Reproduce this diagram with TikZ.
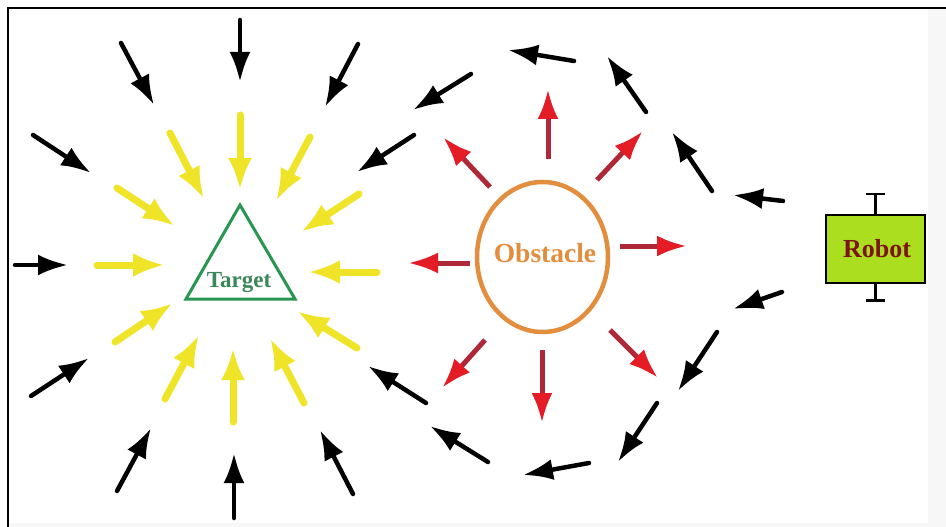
\documentclass[tikz,border=0pt]{standalone}
\usepackage{fontspec}
\setmainfont{Liberation Serif}
\usetikzlibrary{arrows.meta,shapes.geometric}
\definecolor{yel}{RGB}{240,228,40}
\definecolor{redshaft}{RGB}{175,40,55}
\definecolor{redhead}{RGB}{228,28,38}
\definecolor{obsorange}{RGB}{226,142,62}
\definecolor{tgreen}{RGB}{40,150,80}
\definecolor{ttext}{RGB}{60,135,90}
\definecolor{robotfill}{RGB}{170,222,30}
\definecolor{robottext}{RGB}{125,20,20}
\begin{document}
\begin{tikzpicture}[x=1pt,y=-1pt,
  blk/.style={line width=4.5pt, draw=black, line cap=round, -{Latex[length=30pt,width=21pt]}},
  ylw/.style={line width=7pt, draw=yel, line cap=round, -{Latex[length=32pt,width=24pt]}},
  redar/.style={line width=5pt, draw=redshaft, -{Latex[length=30pt,width=21pt,color=redhead]}},
  lbl/.style={font=\bfseries, inner sep=0pt, anchor=base}
]
\useasboundingbox (0,0) rectangle (946,527);
\fill[white] (0,0) rectangle (946,527);
\fill[black!3] (928,9) rectangle (946,527);
\fill[black!3] (9,523) rectangle (946,527);
\draw[line width=2.5pt] (8,527) -- (8,8) -- (946,8);

% Target
\draw[tgreen, line width=3pt, line join=miter] (240,205) -- (295,299) -- (186,299) -- cycle;
\node[lbl, text=ttext, font=\fontsize{23}{23}\selectfont\bfseries] (target) at (239,287) {Target};

% Obstacle
\node[ellipse, draw=obsorange, line width=4.5pt, minimum width=131pt, minimum height=150pt, inner sep=0pt] (obstacle) at (542.5,257) {};
\node[lbl, text=obsorange, font=\fontsize{27.5}{27.5}\selectfont\bfseries] (obstext) at (545,262) {Obstacle};

% Robot
\node[draw=black, fill=robotfill, line width=2.5pt, minimum width=99pt, minimum height=68pt, inner sep=0pt] (robot) at (875.5,249) {};
\node[lbl, text=robottext, font=\fontsize{26}{26}\selectfont\bfseries] (robottxt) at (877,257) {Robot};
\draw[line width=2.5pt] (robot.north) -- ++(0,-20) coordinate (rt);
\draw[line width=2.5pt] ([xshift=-9.5pt]rt) -- ([xshift=9.5pt]rt);
\draw[line width=2.5pt] (robot.south) -- ++(0,16) coordinate (rb);
\draw[line width=2.5pt] ([xshift=-9.5pt]rb) -- ([xshift=9.5pt]rb);

% Black arrows toward target and around obstacle
\foreach \x/\y/\u/\v in {
  240/20/240/82, 121/43/154/105, 33/135/91/173, 15/265/68/265,
  31/396/89/358, 117/491/151/428, 234/518/234/453, 353/494/320/430,
  358/44/325/107,
  783/201/733/195, 712/191/672/132, 646/112/607/56, 574/61/508/50,
  471/74/413/110, 414/135/357/172,
  782/292/733/309, 717/332/678/391, 657/403/618/462, 589/463/523/475,
  488/462/430/426, 426/403/368/366}
  \draw[blk] (\x,\y) -- (\u,\v);

% Yellow arrows
\foreach \x/\y/\u/\v in {
  240/115/240/190, 170/133/204/199, 117/188/175/226, 97/265/165/265,
  115/342/173/303, 165/399/199/335, 233/422/233/348, 304/403/270/338,
  357/348/297/311, 377/272/308/272, 359/194/301/232, 310/137/276/201}
  \draw[ylw] (\x,\y) -- (\u,\v);

% Red arrows
\foreach \x/\y/\u/\v in {
  548/159/548/89, 490/187/443/137, 597/180/643/131, 620/246/687/246,
  470/263/408/263, 485/340/442/388, 542/350/542/423, 610/330/658/378}
  \draw[redar] (\x,\y) -- (\u,\v);
\end{tikzpicture}
\end{document}
